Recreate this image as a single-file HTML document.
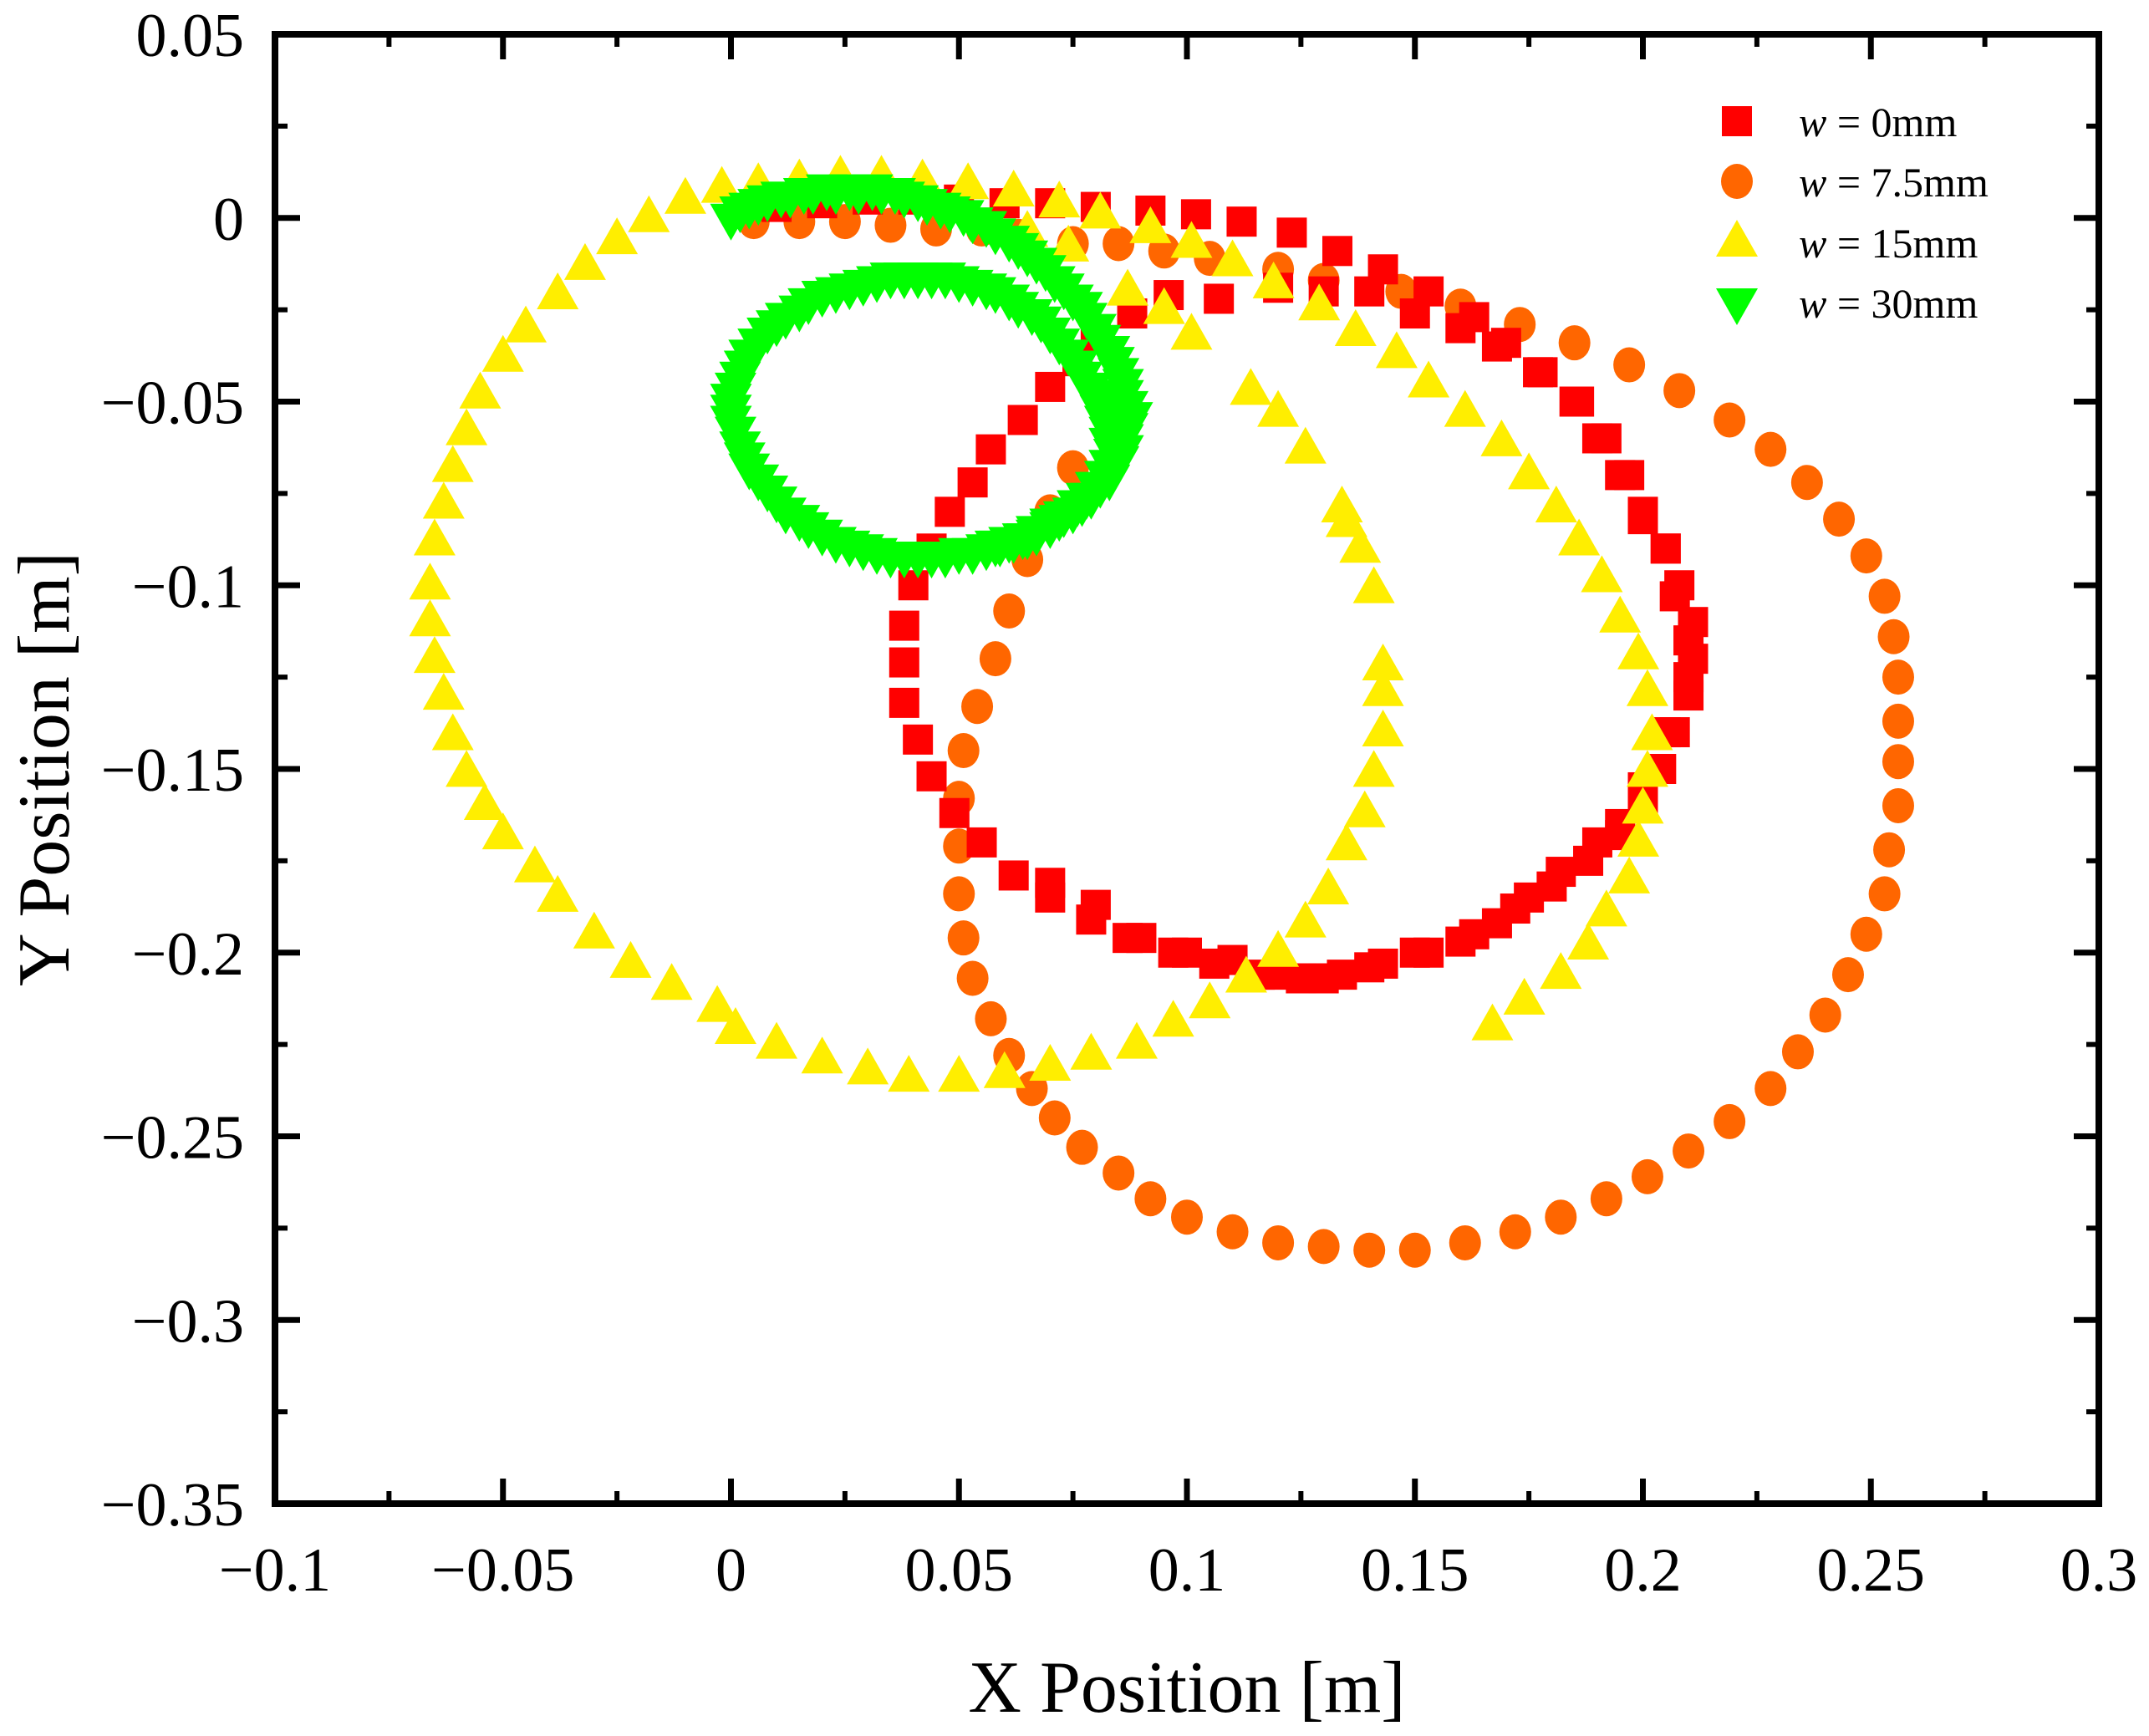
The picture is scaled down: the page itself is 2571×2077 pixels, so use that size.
<!DOCTYPE html>
<html><head><meta charset="utf-8">
<style>
html,body{margin:0;padding:0;background:#fff;}
svg{display:block;font-family:"Liberation Serif","DejaVu Serif",serif;}
</style></head>
<body>
<svg id="chart" width="2571" height="2077" viewBox="0 0 2571 2077" xmlns="http://www.w3.org/2000/svg">
<g id="marks"></g>
<g id="axes"></g>
<g id="legend"></g>
<text x="1420" y="2048" font-size="88" text-anchor="middle">X Position [m]</text>
<text transform="translate(82,920) rotate(-90)" font-size="88" text-anchor="middle">Y Position [m]</text>
</svg>
<script>
const xTicks=[-0.1,-0.05,0,0.05,0.1,0.15,0.2,0.25,0.3];
const xTickLabels=["\u22120.1","\u22120.05","0","0.05","0.1","0.15","0.2","0.25","0.3"];
const yTicks=[0.05,0,-0.05,-0.1,-0.15,-0.2,-0.25,-0.3,-0.35];
const yTickLabels=["0.05","0","\u22120.05","\u22120.1","\u22120.15","\u22120.2","\u22120.25","\u22120.3","\u22120.35"];
const seriesNames=["w = 0mm","w = 7.5mm","w = 15mm","w = 30mm"];
const redX=[0.01,0.02,0.03,0.04,0.05,0.06,0.07,0.08,0.092,0.102,0.112,0.123,0.133,0.143,0.153,0.163,0.17,0.178,0.186,0.192,0.197,0.2,0.205,0.208,0.211,0.211,0.21,0.207,0.204,0.2,0.195,0.188,0.18,0.172,0.163,0.153,0.143,0.134,0.125,0.116,0.106,0.097,0.087,0.079,0.07,0.062,0.055,0.049,0.044,0.041,0.038,0.038,0.038,0.04,0.044,0.048,0.053,0.057,0.064,0.07,0.076,0.08,0.088,0.096,0.107,0.12,0.13,0.14,0.15,0.16,0.168,0.177,0.185,0.19,0.195,0.2,0.205,0.207,0.21,0.21,0.205,0.2,0.195,0.19,0.182,0.175,0.168,0.16,0.15,0.14,0.13,0.12,0.11,0.1,0.09,0.08,0.07];
const redY=[0.003,0.004,0.005,0.005,0.005,0.004,0.004,0.003,0.002,0.001,-0.001,-0.004,-0.009,-0.014,-0.02,-0.027,-0.034,-0.042,-0.05,-0.06,-0.07,-0.08,-0.09,-0.1,-0.11,-0.12,-0.13,-0.14,-0.15,-0.16,-0.168,-0.175,-0.182,-0.188,-0.195,-0.2,-0.203,-0.206,-0.207,-0.206,-0.203,-0.2,-0.196,-0.191,-0.185,-0.179,-0.17,-0.162,-0.152,-0.142,-0.132,-0.121,-0.111,-0.1,-0.09,-0.08,-0.072,-0.063,-0.055,-0.046,-0.039,-0.033,-0.026,-0.021,-0.022,-0.019,-0.02,-0.02,-0.026,-0.03,-0.035,-0.042,-0.05,-0.06,-0.07,-0.082,-0.09,-0.103,-0.115,-0.125,-0.14,-0.155,-0.165,-0.17,-0.178,-0.185,-0.192,-0.197,-0.2,-0.204,-0.207,-0.206,-0.202,-0.2,-0.196,-0.187,-0.181];
const orangeX=[0.005,0.015,0.025,0.035,0.045,0.055,0.063,0.075,0.085,0.095,0.105,0.12,0.13,0.147,0.16,0.173,0.185,0.197,0.208,0.219,0.228,0.236,0.243,0.249,0.253,0.255,0.256,0.256,0.256,0.256,0.254,0.253,0.249,0.245,0.24,0.234,0.228,0.219,0.21,0.201,0.192,0.182,0.172,0.161,0.15,0.14,0.13,0.12,0.11,0.1,0.092,0.085,0.077,0.071,0.066,0.061,0.057,0.053,0.051,0.05,0.05,0.05,0.051,0.054,0.058,0.061,0.065,0.07,0.075];
const orangeY=[-0.001,-0.001,-0.001,-0.002,-0.003,-0.003,-0.005,-0.007,-0.007,-0.009,-0.011,-0.014,-0.017,-0.02,-0.024,-0.029,-0.034,-0.04,-0.047,-0.055,-0.063,-0.072,-0.082,-0.092,-0.103,-0.114,-0.125,-0.137,-0.148,-0.16,-0.172,-0.184,-0.195,-0.206,-0.217,-0.227,-0.237,-0.246,-0.254,-0.261,-0.267,-0.272,-0.276,-0.279,-0.281,-0.281,-0.28,-0.279,-0.276,-0.272,-0.267,-0.26,-0.253,-0.245,-0.237,-0.228,-0.218,-0.207,-0.196,-0.184,-0.171,-0.158,-0.145,-0.133,-0.12,-0.107,-0.093,-0.08,-0.068];
const yellowX=[0.062,0.052,0.042,0.033,0.024,0.015,0.006,-0.002,-0.01,-0.018,-0.025,-0.032,-0.038,-0.045,-0.05,-0.055,-0.058,-0.061,-0.063,-0.065,-0.066,-0.066,-0.065,-0.063,-0.061,-0.058,-0.054,-0.05,-0.043,-0.038,-0.03,-0.022,-0.013,-0.003,0.001,0.01,0.02,0.03,0.039,0.05,0.06,0.07,0.079,0.089,0.097,0.105,0.113,0.12,0.126,0.131,0.135,0.139,0.141,0.143,0.143,0.143,0.141,0.138,0.135,0.134,0.126,0.12,0.114,0.101,0.095,0.087,0.072,0.081,0.092,0.101,0.11,0.119,0.129,0.137,0.146,0.153,0.161,0.169,0.175,0.181,0.186,0.191,0.195,0.199,0.201,0.202,0.201,0.2,0.199,0.197,0.192,0.188,0.182,0.174,0.167,0.065,0.074];
const yellowY=[0.007,0.009,0.01,0.011,0.011,0.01,0.009,0.008,0.005,0.0,-0.006,-0.013,-0.021,-0.03,-0.038,-0.048,-0.058,-0.068,-0.078,-0.088,-0.1,-0.11,-0.12,-0.13,-0.141,-0.151,-0.16,-0.168,-0.177,-0.185,-0.195,-0.203,-0.209,-0.215,-0.221,-0.225,-0.229,-0.232,-0.234,-0.234,-0.233,-0.231,-0.228,-0.225,-0.219,-0.214,-0.207,-0.2,-0.192,-0.183,-0.171,-0.162,-0.151,-0.14,-0.129,-0.122,-0.101,-0.09,-0.083,-0.079,-0.063,-0.053,-0.047,-0.032,-0.025,-0.02,0.004,0.001,-0.003,-0.007,-0.012,-0.018,-0.024,-0.031,-0.037,-0.045,-0.053,-0.061,-0.07,-0.079,-0.088,-0.098,-0.109,-0.119,-0.129,-0.141,-0.151,-0.161,-0.17,-0.18,-0.189,-0.198,-0.206,-0.213,-0.22,-0.004,-0.008];
const greenX=[0.0,0.004,0.008,0.013,0.018,0.023,0.028,0.033,0.038,0.043,0.048,0.053,0.058,0.063,0.067,0.071,0.075,0.078,0.081,0.084,0.086,0.087,0.087,0.086,0.084,0.081,0.077,0.072,0.067,0.062,0.056,0.05,0.044,0.038,0.032,0.026,0.02,0.015,0.01,0.006,0.003,0.001,0.0,0.001,0.003,0.006,0.01,0.015,0.02,0.026,0.032,0.038,0.044,0.05,0.056,0.061,0.066,0.07,0.074,0.077,0.08,0.082,0.083,0.083,0.08,0.076,0.07,0.064,0.058,
0.002,0.006,0.011,0.016,0.021,0.026,0.031,0.036,0.041,0.046,0.051,0.056,0.061,0.065,0.069,0.073,0.077,0.08,0.083,0.085,0.086,0.088,0.086,0.085,0.083,0.079,0.075,0.07,0.065,0.059,0.053,0.047,0.041,0.035,0.029,0.023,0.017,0.012,0.008,0.004,0.002,0.0,0.0,0.002,0.004,0.008,0.012,0.017,0.023,0.029,0.035,0.041,0.047,0.053,0.058,0.063,0.068,0.072,0.076,0.079,0.081,0.083,0.084,0.082,0.078,0.073,0.067,0.061];
const greenY=[0.0,0.003,0.005,0.006,0.007,0.007,0.007,0.007,0.006,0.004,0.002,-0.001,-0.004,-0.008,-0.012,-0.017,-0.022,-0.027,-0.033,-0.039,-0.045,-0.051,-0.057,-0.063,-0.068,-0.073,-0.078,-0.082,-0.086,-0.088,-0.09,-0.091,-0.092,-0.092,-0.091,-0.089,-0.086,-0.082,-0.077,-0.071,-0.065,-0.058,-0.052,-0.046,-0.04,-0.034,-0.029,-0.025,-0.021,-0.019,-0.017,-0.016,-0.016,-0.017,-0.019,-0.022,-0.026,-0.031,-0.037,-0.043,-0.049,-0.055,-0.061,-0.067,-0.073,-0.078,-0.083,-0.087,-0.089,
0.002,0.004,0.006,0.007,0.008,0.008,0.008,0.007,0.005,0.003,0.001,-0.002,-0.006,-0.01,-0.014,-0.019,-0.024,-0.03,-0.036,-0.042,-0.048,-0.054,-0.06,-0.066,-0.071,-0.076,-0.08,-0.084,-0.087,-0.089,-0.091,-0.092,-0.092,-0.092,-0.09,-0.088,-0.084,-0.08,-0.074,-0.068,-0.062,-0.055,-0.049,-0.043,-0.037,-0.031,-0.027,-0.023,-0.02,-0.018,-0.016,-0.016,-0.016,-0.018,-0.02,-0.024,-0.028,-0.034,-0.04,-0.046,-0.052,-0.058,-0.064,-0.07,-0.076,-0.081,-0.085,-0.088];

const NS='http://www.w3.org/2000/svg';
const L=329,R=2511,T=41,B=1799;
const X0=-0.1,X1=0.3,Y0=-0.35,Y1=0.05;
function sx(v){return L+(v-X0)/(X1-X0)*(R-L);}
function sy(v){return B-(v-Y0)/(Y1-Y0)*(B-T);}
function mk(tag,attrs,parent){const e=document.createElementNS(NS,tag);for(const k in attrs)e.setAttribute(k,attrs[k]);parent.appendChild(e);return e;}
const marks=document.getElementById('marks');
const axes=document.getElementById('axes');
const legend=document.getElementById('legend');

function square(g,cx,cy,c){return mk('rect',{x:cx-18,y:cy-18,width:36,height:36,fill:c},g);}
function circle(g,cx,cy,c){return mk('ellipse',{cx:cx,cy:cy,rx:19,ry:21,fill:c},g);}
function triUp(g,cx,cy,c){return mk('polygon',{points:(cx)+','+(cy-27)+' '+(cx-25)+','+(cy+17)+' '+(cx+25)+','+(cy+17),fill:c},g);}
function triDown(g,cx,cy,c){return mk('polygon',{points:(cx)+','+(cy+27)+' '+(cx-25)+','+(cy-17)+' '+(cx+25)+','+(cy-17),fill:c},g);}

const gOrange=mk('g',{},marks);


const gRed=mk('g',{},marks);


const gYellow=mk('g',{},marks);


const gGreen=mk('g',{},marks);



for(let i=0;i<orangeX.length;i++){const e=circle(gOrange,sx(orangeX[i]),sy(orangeY[i]),'#ff6600');

}
for(let i=0;i<redX.length;i++){const e=square(gRed,sx(redX[i]),sy(redY[i]),'#ff0000');

}
for(let i=0;i<yellowX.length;i++){const e=triUp(gYellow,sx(yellowX[i]),sy(yellowY[i]),'#ffee00');

}
for(let i=0;i<greenX.length;i++){const e=triDown(gGreen,sx(greenX[i]),sy(greenY[i]),'#00ff00');

}

const frame=mk('rect',{x:L,y:T,width:R-L,height:B-T,fill:'none',stroke:'#000','stroke-width':8},axes);


for(let i=0;i<xTicks.length;i++){
  const x=sx(xTicks[i]);
  mk('line',{x1:x,y1:B,x2:x,y2:B-30,stroke:'#000','stroke-width':7},axes);
  mk('line',{x1:x,y1:T,x2:x,y2:T+30,stroke:'#000','stroke-width':7},axes);
  if(i<xTicks.length-1){const xm=sx((xTicks[i]+xTicks[i+1])/2);
    mk('line',{x1:xm,y1:B,x2:xm,y2:B-15,stroke:'#000','stroke-width':6},axes);
    mk('line',{x1:xm,y1:T,x2:xm,y2:T+15,stroke:'#000','stroke-width':6},axes);}
  const t=mk('text',{x:x,y:1903,'font-size':74,'text-anchor':'middle'},axes);
  t.textContent=xTickLabels[i];
  
  
}
for(let i=0;i<yTicks.length;i++){
  const y=sy(yTicks[i]);
  mk('line',{x1:L,y1:y,x2:L+30,y2:y,stroke:'#000','stroke-width':7},axes);
  mk('line',{x1:R,y1:y,x2:R-30,y2:y,stroke:'#000','stroke-width':7},axes);
  if(i<yTicks.length-1){const ym=sy((yTicks[i]+yTicks[i+1])/2);
    mk('line',{x1:L,y1:ym,x2:L+15,y2:ym,stroke:'#000','stroke-width':6},axes);
    mk('line',{x1:R,y1:ym,x2:R-15,y2:ym,stroke:'#000','stroke-width':6},axes);}
  const t=mk('text',{x:292,y:y+26,'font-size':74,'text-anchor':'end'},axes);
  t.textContent=yTickLabels[i];
  
  
}
const legY=[145,217,290,362];
const legFns=[square,circle,triUp,triDown];
const legCols=['#ff0000','#ff6600','#ffee00','#00ff00'];
for(let i=0;i<4;i++){
  const g=mk('g',{},legend);
  
  
  legFns[i](g,2078,legY[i],legCols[i]);
  const t=mk('text',{x:2152,y:legY[i]+18,'font-size':50},g);
  const parts=seriesNames[i].split(' = ');
  const a=mk('tspan',{'font-style':'italic'},t);a.textContent=parts[0];
  const b=mk('tspan',{},t);b.textContent=' = '+parts[1];
}
</script>
</body></html>
